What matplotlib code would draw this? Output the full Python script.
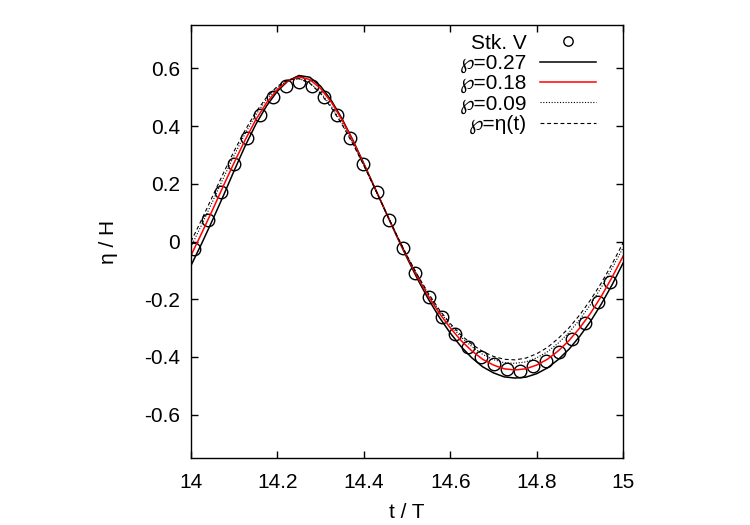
import matplotlib
matplotlib.use('Agg')
import matplotlib.pyplot as plt
import numpy as np

plt.rcParams['font.family'] = ['Liberation Sans', 'DejaVu Sans']
plt.rcParams['font.size'] = 15

# Stokes V reference (circles)
t_stk = [14.007, 14.040, 14.069, 14.100, 14.130, 14.160, 14.190, 14.220, 14.249,
         14.279, 14.308, 14.339, 14.368, 14.398, 14.430, 14.459, 14.490, 14.519,
         14.551, 14.581, 14.612, 14.641, 14.671, 14.701, 14.731, 14.762, 14.791,
         14.821, 14.852, 14.881, 14.912, 14.943, 14.971]
eta_stk = [-0.025, 0.073, 0.171, 0.269, 0.360, 0.439, 0.501, 0.540, 0.553,
           0.540, 0.501, 0.439, 0.360, 0.269, 0.171, 0.073, -0.022, -0.110,
           -0.191, -0.260, -0.320, -0.367, -0.401, -0.425, -0.441, -0.447, -0.433,
           -0.413, -0.382, -0.337, -0.281, -0.210, -0.139]

# simulated surface elevation, sampled every 0.025 T
t_sim = [14.000, 14.025, 14.050, 14.075, 14.100, 14.125, 14.150, 14.175, 14.200, 14.225,
         14.250, 14.275, 14.300, 14.325, 14.350, 14.375, 14.400, 14.425, 14.450, 14.475,
         14.500, 14.525, 14.550, 14.575, 14.600, 14.625, 14.650, 14.675, 14.700, 14.725,
         14.750, 14.775, 14.800, 14.825, 14.850, 14.875, 14.900, 14.925, 14.950, 14.975,
         15.000]
eta_p27 = [-0.083, -0.006, 0.075, 0.159, 0.246, 0.330, 0.406, 0.470, 0.521, 0.557,
           0.575, 0.569, 0.538, 0.488, 0.424, 0.350, 0.270, 0.187, 0.105, 0.022,
           -0.057, -0.132, -0.201, -0.263, -0.317, -0.364, -0.403, -0.434, -0.455, -0.469,
           -0.473, -0.470, -0.458, -0.438, -0.409, -0.373, -0.328, -0.276, -0.216, -0.149,
           -0.075]
eta_p18 = [-0.048, 0.030, 0.110, 0.193, 0.274, 0.351, 0.422, 0.481, 0.527, 0.558,
           0.570, 0.561, 0.530, 0.482, 0.420, 0.348, 0.268, 0.187, 0.105, 0.024,
           -0.053, -0.125, -0.191, -0.249, -0.299, -0.343, -0.379, -0.408, -0.428, -0.441,
           -0.445, -0.441, -0.428, -0.408, -0.379, -0.343, -0.299, -0.248, -0.189, -0.123,
           -0.051]
eta_p09 = [-0.018, 0.059, 0.139, 0.220, 0.299, 0.373, 0.439, 0.493, 0.534, 0.559,
           0.564, 0.550, 0.516, 0.468, 0.408, 0.340, 0.265, 0.186, 0.105, 0.025,
           -0.050, -0.120, -0.184, -0.241, -0.289, -0.331, -0.364, -0.391, -0.409, -0.420,
           -0.422, -0.417, -0.403, -0.382, -0.352, -0.315, -0.270, -0.218, -0.158, -0.092,
           -0.022]
eta_peta = [0.000, 0.077, 0.157, 0.237, 0.314, 0.385, 0.448, 0.500, 0.538, 0.561,
            0.564, 0.548, 0.512, 0.463, 0.404, 0.337, 0.263, 0.185, 0.105, 0.026,
            -0.049, -0.118, -0.181, -0.237, -0.284, -0.324, -0.356, -0.381, -0.398, -0.408,
            -0.410, -0.404, -0.389, -0.367, -0.336, -0.299, -0.254, -0.202, -0.143, -0.077,
            -0.005]

xticks = [14, 14.2, 14.4, 14.6, 14.8, 15]
yticks = [-0.6, -0.4, -0.2, 0, 0.2, 0.4, 0.6]

fig = plt.figure(figsize=(7.5, 5.25), dpi=100)
ax = fig.add_axes([0.2547, 0.1276, 0.576, 0.8248])

ax.plot(t_stk, eta_stk, 'o', mfc='none', mec='black', ms=9, mew=1.0, label='Stk. V')
ax.plot(t_sim, eta_p27, '-', color='black', lw=1.1, label='\u2118=0.27')
ax.plot(t_sim, eta_p18, '-', color='red', lw=1.1, label='\u2118=0.18')
ax.plot(t_sim, eta_p09, color='black', lw=0.8, dashes=(1, 1.5), label='\u2118=0.09')
ax.plot(t_sim, eta_peta, color='black', lw=0.8, dashes=(3.5, 2.5), label='\u2118=\u03b7(t)')

ax.set_xlim(14, 15)
ax.set_ylim(-0.75, 0.75)
ax.set_xticks(xticks)
ax.set_xticklabels(['14', '14.2', '14.4', '14.6', '14.8', '15'])
ax.set_yticks(yticks)
ax.set_yticklabels(['-0.6', '-0.4', '-0.2', '0', '0.2', '0.4', '0.6'])
ax.tick_params(direction='in', length=5, width=1.0, top=True, right=True, pad=8)
ax.tick_params(axis='x', pad=11)
for s in ax.spines.values():
    s.set_linewidth(1.0)

ax.set_xlabel('t / T', labelpad=8)
ax.set_ylabel('\u03b7 / H', labelpad=19)

ax.legend(loc='upper right', bbox_to_anchor=(0.942, 0.985), frameon=False, markerfirst=False,
          handlelength=2.7, handletextpad=0.6, labelspacing=0.06, borderpad=0.1,
          borderaxespad=0.0, fontsize=15, markerscale=0.75)

fig.savefig('out.png', dpi=100)
